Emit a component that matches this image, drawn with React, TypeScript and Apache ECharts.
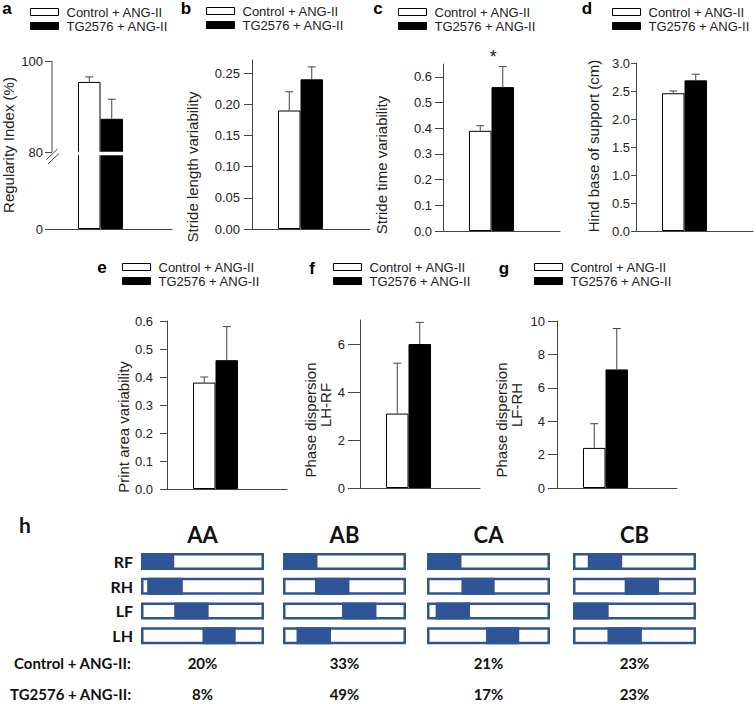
import React, { useEffect, useRef } from 'react';
import * as echarts from 'echarts';

// ---------- data ----------
const groups = ['Control + ANG-II', 'TG2576 + ANG-II'];

const regularityMean = [95.4, 87.3];
const regularityErr = [1.1, 4.3];
const regularityTicks = [0, 80, 100];

const strideLengthMean = [0.19, 0.24];
const strideLengthErr = [0.03, 0.02];
const strideLengthTicks = [0, 0.05, 0.1, 0.15, 0.2, 0.25];

const strideTimeMean = [0.39, 0.56];
const strideTimeErr = [0.02, 0.08];
const strideTimeTicks = [0, 0.1, 0.2, 0.3, 0.4, 0.5, 0.6];
const strideTimeSignificance = ['', '*'];

const hindBaseMean = [2.46, 2.69];
const hindBaseErr = [0.04, 0.11];
const hindBaseTicks = [0, 0.5, 1, 1.5, 2, 2.5, 3];

const printAreaMean = [0.38, 0.46];
const printAreaErr = [0.02, 0.12];
const printAreaTicks = [0, 0.1, 0.2, 0.3, 0.4, 0.5, 0.6];

const phaseLHRFMean = [3.1, 6.0];
const phaseLHRFErr = [2.1, 0.9];
const phaseLHRFTicks = [0, 2, 4, 6];

const phaseLFRHMean = [2.4, 7.1];
const phaseLFRHErr = [1.45, 2.45];
const phaseLFRHTicks = [0, 2, 4, 6, 8, 10];

const gaitPatterns = ['AA', 'AB', 'CA', 'CB'];
const limbs = ['RF', 'RH', 'LF', 'LH'];
// [start %, end %] of the filled phase for each limb (RF, RH, LF, LH)
const phaseAA = [[0, 27], [5, 34], [27, 55], [50, 77]];
const phaseAB = [[0, 28], [26, 54], [48, 76], [11, 39]];
const phaseCA = [[0, 28], [28, 55], [7, 35], [48, 75]];
const phaseCB = [[12, 40], [42, 70], [0, 29], [28, 56]];
const cohortLabels = ['Control + ANG-II:', 'TG2576 + ANG-II:'];
const controlShare = ['20%', '33%', '21%', '23%'];
const tgShare = ['8%', '49%', '17%', '23%'];

// ---------- styling / layout ----------
const FONT = '"Liberation Sans", Arial, sans-serif';
const HFONT = 'Lato, "Open Sans", sans-serif';
const AXIS = '#444';
const BLUE = '#2F5597';
const BW = 22.5;
const BAR_OFFSET = 37.25;
const BOX_H = 17;

const brk = (v: number) => (v <= 80 ? (v * 77) / 80 : 77 + ((v - 80) * 91) / 20);
const unbrk = (u: number) => (u <= 77 ? (u * 80) / 77 : 80 + ((u - 77) * 20) / 91);

const panels = [
  { letter: 'a', mean: regularityMean, err: regularityErr, ticks: regularityTicks, max: 100, dec: 0, broken: true,
    grid: { left: 52, top: 61, width: 120, height: 168 }, tick: 7, margin: 9, legend: [30, 5], lp: [7, 8],
    names: [{ t: 'Regularity Index (%)', x: 8, y: 145 }] },
  { letter: 'b', mean: strideLengthMean, err: strideLengthErr, ticks: strideLengthTicks, max: 0.271, dec: 2,
    grid: { left: 252, top: 60, width: 118, height: 169 }, tick: 8, margin: 12, legend: [206, 4], lp: [186, 8],
    names: [{ t: 'Stride length variability', x: 192, y: 167 }] },
  { letter: 'c', mean: strideTimeMean, err: strideTimeErr, ticks: strideTimeTicks, max: 0.65, dec: 1,
    grid: { left: 443, top: 64, width: 117, height: 167 }, tick: 8, margin: 11, legend: [398, 5], lp: [378, 8],
    names: [{ t: 'Stride time variability', x: 381, y: 165 }], sig: strideTimeSignificance },
  { letter: 'd', mean: hindBaseMean, err: hindBaseErr, ticks: hindBaseTicks, max: 3, dec: 1,
    grid: { left: 636, top: 63, width: 117, height: 168 }, tick: 5, margin: 6, legend: [612, 5], lp: [587, 8],
    names: [{ t: 'Hind base of support (cm)', x: 593, y: 146 }] },
  { letter: 'e', mean: printAreaMean, err: printAreaErr, ticks: printAreaTicks, max: 0.6, dec: 1,
    grid: { left: 167, top: 321, width: 120, height: 168 }, tick: 7, margin: 14, legend: [122, 260], lp: [102, 267],
    names: [{ t: 'Print area variability', x: 123, y: 427 }] },
  { letter: 'f', mean: phaseLHRFMean, err: phaseLHRFErr, ticks: phaseLHRFTicks, max: 7, dec: 0,
    grid: { left: 360, top: 320, width: 120, height: 168 }, tick: 12, margin: 15, legend: [333, 260], lp: [312, 268],
    names: [{ t: 'Phase dispersion', x: 310, y: 420 }, { t: 'LH-RF', x: 325, y: 405 }] },
  { letter: 'g', mean: phaseLFRHMean, err: phaseLFRHErr, ticks: phaseLFRHTicks, max: 10, dec: 0,
    grid: { left: 557, top: 321, width: 120, height: 167 }, tick: 9, margin: 12, legend: [534, 260], lp: [504, 268],
    names: [{ t: 'Phase dispersion', x: 501, y: 420 }, { t: 'LF-RH', x: 516, y: 405 }] },
];

const gaitData = [phaseAA, phaseAB, phaseCA, phaseCB];
const H_LEFTS = [141, 283, 427, 573];
const H_W = 123;
const H_TOP = 549;
const H_H = 99;

const errRender = (_p: any, api: any) => {
  const x = api.value(0);
  const p0 = api.coord([x, api.value(1)]);
  const p1 = api.coord([x, api.value(2)]);
  const st = { stroke: AXIS, lineWidth: 1 };
  return {
    type: 'group',
    children: [
      { type: 'line', shape: { x1: p0[0], y1: p0[1], x2: p1[0], y2: p1[1] }, style: st },
      { type: 'line', shape: { x1: p1[0] - 4, y1: p1[1], x2: p1[0] + 4, y2: p1[1] }, style: st },
    ],
  };
};

const gaitRender = (_p: any, api: any) => {
  const s = api.value(0);
  const r = api.value(1);
  const e = api.value(2);
  const l = api.coord([0, r]);
  const rt = api.coord([100, r]);
  const a = api.coord([s, r]);
  const b = api.coord([e, r]);
  const cy = l[1];
  const lw = 2.5;
  return {
    type: 'group',
    children: [
      { type: 'rect', shape: { x: l[0] + lw / 2, y: cy - BOX_H / 2 + lw / 2, width: rt[0] - l[0] - lw, height: BOX_H - lw },
        style: { fill: '#fff', stroke: BLUE, lineWidth: lw } },
      { type: 'rect', shape: { x: a[0], y: cy - BOX_H / 2, width: b[0] - a[0], height: BOX_H }, style: { fill: BLUE } },
    ],
  };
};

function buildOption() {
  const grid: any[] = [];
  const xAxis: any[] = [];
  const yAxis: any[] = [];
  const series: any[] = [];
  const legend: any[] = [];
  const xMin = -BAR_OFFSET / BW;

  panels.forEach((p: any, i) => {
    grid.push({ ...p.grid });
    xAxis.push({
      gridIndex: i, type: 'value', min: xMin, max: xMin + p.grid.width / BW,
      axisLine: { show: true, onZero: false, lineStyle: { color: AXIS, width: 1 } },
      axisTick: { show: false }, axisLabel: { show: false }, splitLine: { show: false },
    });
    const tr = p.broken ? brk : (v: number) => v;
    const tv = p.ticks.map(tr);
    yAxis.push({
      gridIndex: i, type: 'value', min: 0, max: tr(p.max),
      axisLine: { show: !p.broken, onZero: false, lineStyle: { color: AXIS, width: 1 } },
      axisTick: { show: true, length: p.tick, customValues: tv, lineStyle: { color: AXIS, width: 1 } },
      axisLabel: {
        customValues: tv, fontSize: 13, color: '#222', fontFamily: FONT, margin: p.margin,
        formatter: (v: number) => (p.broken ? Math.round(unbrk(v)) : v).toFixed(p.dec),
      },
      splitLine: { show: false },
    });
    groups.forEach((g, k) => {
      series.push({
        type: 'bar', name: g, xAxisIndex: i, yAxisIndex: i, barWidth: BW, barGap: '-100%',
        data: [[k, tr(p.mean[k])]],
        itemStyle: k === 0 ? { color: '#fff', borderColor: '#000', borderWidth: 1 } : { color: '#000', borderColor: '#000', borderWidth: 1 },
        z: 2, animation: false,
      });
    });
    series.push({
      type: 'custom', xAxisIndex: i, yAxisIndex: i, z: 3, silent: true,
      data: p.mean.map((m: number, k: number) => [k, tr(m), tr(m + p.err[k])]),
      renderItem: errRender,
    });
    legend.push({
      left: p.legend[0], top: p.legend[1], orient: 'vertical', padding: 0, itemGap: 0,
      itemWidth: 28, itemHeight: 7, icon: 'rect', selectedMode: false,
      textStyle: { fontFamily: FONT, fontSize: 13, color: '#222', lineHeight: 14, padding: [0, 0, 0, 3] },
      data: [
        { name: groups[0], itemStyle: { color: '#fff', borderColor: '#000', borderWidth: 1 } },
        { name: groups[1], itemStyle: { color: '#000', borderColor: '#000', borderWidth: 1 } },
      ],
    });
  });

  gaitPatterns.forEach((_name, j) => {
    const gi = panels.length + j;
    grid.push({ left: H_LEFTS[j], top: H_TOP, width: H_W, height: H_H });
    xAxis.push({ gridIndex: gi, type: 'value', min: 0, max: 100, show: false, splitLine: { show: false } });
    yAxis.push({
      gridIndex: gi, type: 'category', data: limbs, inverse: true,
      axisLine: { show: false }, axisTick: { show: false }, splitLine: { show: false },
      axisLabel: { show: j === 0, fontFamily: HFONT, fontWeight: 'bold', fontSize: 16, color: '#111', margin: 8 },
    });
    series.push({
      type: 'custom', xAxisIndex: gi, yAxisIndex: gi, silent: true,
      data: gaitData[j].map((s, r) => [s[0], r, s[1]]),
      renderItem: gaitRender,
    });
  });

  return {
    animation: false,
    backgroundColor: '#fff',
    textStyle: { fontFamily: FONT },
    grid, xAxis, yAxis, series, legend,
  };
}

function buildGraphics(chart: any) {
  const g: any[] = [];
  const txt = (text: string, x: number, y: number, st: any, extra: any = {}) =>
    g.push({ type: 'text', x, y, z: 100, ...extra, style: { text, textAlign: 'center', textVerticalAlign: 'middle', ...st } });

  panels.forEach((p: any) => {
    txt(p.letter, p.lp[0], p.lp[1], { fontFamily: FONT, fontWeight: 'bold', fontSize: 17, fill: '#000' });
    p.names.forEach((n: any) =>
      txt(n.t, n.x, n.y, { fontFamily: FONT, fontSize: 15, fill: '#222' }, { rotation: Math.PI / 2 }));
  });

  // broken axis on panel a
  const xMin = -BAR_OFFSET / BW;
  const top = chart.convertToPixel({ gridIndex: 0 }, [xMin, brk(100)]);
  const b80 = chart.convertToPixel({ gridIndex: 0 }, [xMin, brk(80)]);
  const bl = chart.convertToPixel({ gridIndex: 0 }, [-0.5, brk(80)]);
  const br = chart.convertToPixel({ gridIndex: 0 }, [1.5, brk(80)]);
  const ls = { stroke: AXIS, lineWidth: 1 };
  g.push({ type: 'line', z: 100, shape: { x1: top[0], y1: top[1], x2: b80[0], y2: b80[1] }, style: ls });
  g.push({ type: 'line', z: 100, shape: { x1: b80[0] - 5.5, y1: b80[1] + 7.5, x2: b80[0] + 5.5, y2: b80[1] - 3 }, style: ls });
  g.push({ type: 'line', z: 100, shape: { x1: b80[0] - 4, y1: b80[1] + 12, x2: b80[0] + 7, y2: b80[1] + 1.5 }, style: ls });
  g.push({ type: 'rect', z: 100, shape: { x: bl[0] - 1, y: b80[1] - 0.3, width: br[0] - bl[0] + 2, height: 3.6 }, style: { fill: '#fff' } });

  // significance on panel c
  const pc: any = panels[2];
  pc.sig.forEach((s: string, k: number) => {
    if (!s) return;
    const pt = chart.convertToPixel({ gridIndex: 2 }, [k, pc.mean[k] + pc.err[k]]);
    txt(s, pt[0] - 9.5, pt[1] - 10, { fontFamily: FONT, fontSize: 18, fill: '#222' });
  });

  // panel h
  const hs = { fontFamily: HFONT, fontWeight: 'bold', fill: '#111' };
  txt('h', 25, 524, { ...hs, fontSize: 21 });
  gaitPatterns.forEach((name, j) => {
    const cx = H_LEFTS[j] + H_W / 2;
    txt(name, cx, 534, { ...hs, fontSize: 22 });
    txt(controlShare[j], cx, 663, { ...hs, fontSize: 15 });
    txt(tgShare[j], cx, 694, { ...hs, fontSize: 15 });
  });
  g.push({ type: 'text', x: 14, y: 663, z: 100, style: { text: cohortLabels[0], textAlign: 'left', textVerticalAlign: 'middle', ...hs, fontSize: 15 } });
  g.push({ type: 'text', x: 10, y: 694, z: 100, style: { text: cohortLabels[1], textAlign: 'left', textVerticalAlign: 'middle', ...hs, fontSize: 15 } });
  return g;
}

export default function App() {
  const ref = useRef<HTMLDivElement>(null);
  useEffect(() => {
    const chart = echarts.init(ref.current!, null, { renderer: 'svg' });
    chart.setOption(buildOption() as any);
    chart.setOption({ graphic: buildGraphics(chart) } as any);
    return () => chart.dispose();
  }, []);
  return (
    <div
      ref={ref}
      style={{ position: 'fixed', left: 0, top: 0, width: 756, height: 704, background: '#fff' }}
    />
  );
}
